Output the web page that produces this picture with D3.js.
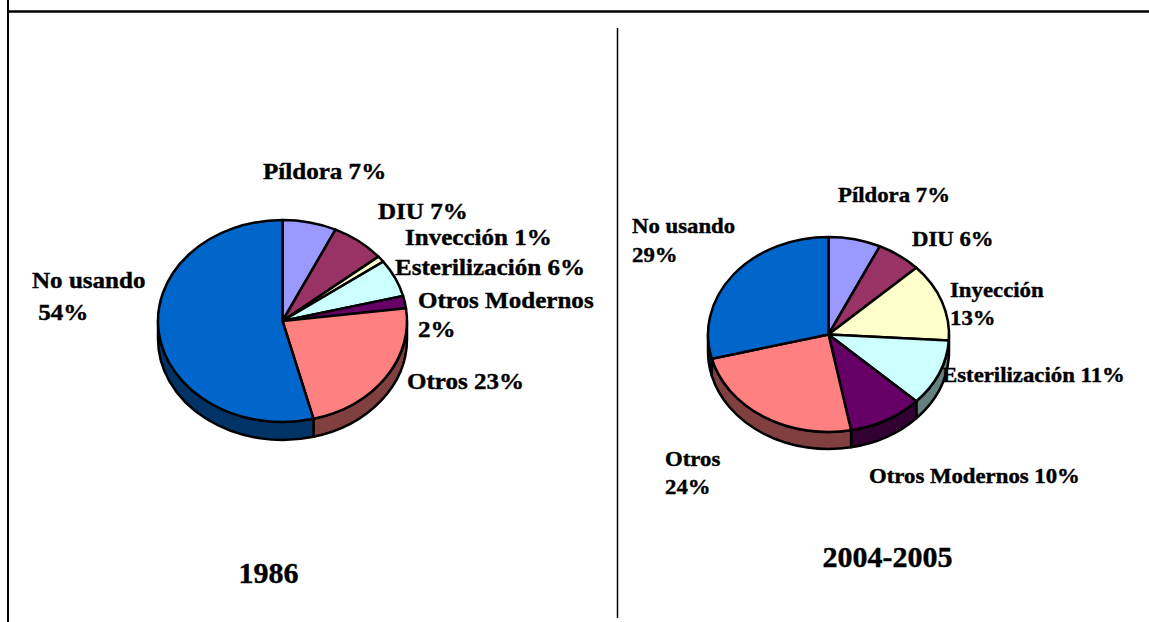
<!DOCTYPE html>
<html>
<head>
<meta charset="utf-8">
<script src="https://d3js.org/d3.v7.min.js"></script>
<style>
body { margin: 0; background: white; }
text { font-family: "Liberation Serif", "Times New Roman", serif; font-weight: bold; fill: black; stroke: black; stroke-width: 0.4px; }
</style>
</head>
<body>
<svg id="chart" width="1149" height="622"></svg>
<script>
// data
const categories = ["Píldora", "DIU", "Inyección", "Esterilización", "Otros Modernos", "Otros", "No usando"];
const colors = ["#9999FF", "#993366", "#FFFFCC", "#CCFFFF", "#660066", "#FF8080", "#0066CC"];
const values1986 = [7, 7, 1, 6, 2, 23, 54];
const values2004 = [7, 6, 13, 11, 10, 24, 29];
const labels1986 = [["Píldora 7%"], ["DIU 7%"], ["Invección 1%"], ["Esterilización 6%"], ["Otros Modernos", "2%"], ["Otros 23%"], ["No usando", " 54%"]];
const labels2004 = [["Píldora 7%"], ["DIU 6%"], ["Inyección", "13%"], ["Esterilización 11%"], ["Otros Modernos 10%"], ["Otros", "24%"], ["No usando", "29%"]];
const titles = ["1986", "2004-2005"];

// label placement relative to pie centre (x, y of first line, line step)
const labelPos1986 = [[-19.5, -142, 0], [95.5, -102, 0], [122.5, -76, 0], [112.5, -46, 0], [135.5, -13, 29], [124.5, 68, 0], [-250.5, -33, 32]];
const labelPos2004 = [[9.5, -132.5, 0], [83.5, -88.5, 0], [121.5, -37.5, 28], [113.5, 47.5, 0], [40.5, 148.5, 0], [-163.5, 131.5, 28], [-196.5, -101.5, 29]];

const svg = d3.select("#chart");

// frame lines
svg.append("line").attr("x1", 7).attr("x2", 1149).attr("y1", 11.5).attr("y2", 11.5)
  .attr("stroke", "black").attr("stroke-width", 2.5);
svg.append("line").attr("x1", 8).attr("x2", 8).attr("y1", 0).attr("y2", 622)
  .attr("stroke", "black").attr("stroke-width", 2);
svg.append("line").attr("x1", 617.5).attr("x2", 617.5).attr("y1", 28).attr("y2", 618)
  .attr("stroke", "black").attr("stroke-width", 1.5);

function halfColor(c) {
  const r = d3.rgb(c);
  return d3.rgb(r.r * 0.5, r.g * 0.5, r.b * 0.5).formatHex();
}

function drawPie(values, labels, labelPos, cx, cy, rx, ry, depth, fontSize, stretch, title, titleX, titleY) {
  const g = svg.append("g");
  const arcs = d3.pie().sort(null)(values);
  const pt = (a, dy) => [cx + rx * Math.sin(a), cy - ry * Math.cos(a) + (dy || 0)];

  // sides (only the front half is visible)
  arcs.forEach(function(d, i) {
    const s0 = Math.max(d.startAngle, Math.PI / 2);
    const s1 = Math.min(d.endAngle, 3 * Math.PI / 2);
    if (s0 >= s1) return;
    const p0 = pt(s0), p1 = pt(s1), q1 = pt(s1, depth), q0 = pt(s0, depth);
    const large = (s1 - s0) > Math.PI ? 1 : 0;
    const path = "M" + p0 + "A" + rx + "," + ry + " 0 " + large + " 1 " + p1 +
      "L" + q1 + "A" + rx + "," + ry + " 0 " + large + " 0 " + q0 + "Z";
    g.append("path").attr("d", path)
      .attr("fill", halfColor(colors[i]))
      .attr("stroke", "black").attr("stroke-width", 2.5).attr("stroke-linejoin", "round");
  });

  // top faces
  arcs.forEach(function(d, i) {
    const p0 = pt(d.startAngle), p1 = pt(d.endAngle);
    const large = (d.endAngle - d.startAngle) > Math.PI ? 1 : 0;
    const path = "M" + cx + "," + cy + "L" + p0 + "A" + rx + "," + ry + " 0 " + large + " 1 " + p1 + "Z";
    g.append("path").attr("d", path)
      .attr("fill", colors[i])
      .attr("stroke", "black").attr("stroke-width", 2.5).attr("stroke-linejoin", "round");
  });

  // labels
  labels.forEach(function(lines, i) {
    const lp = labelPos[i];
    lines.forEach(function(t, k) {
      g.append("text")
        .attr("transform", "translate(" + (cx + lp[0]) + "," + (cy + lp[1] + k * lp[2]) + ") scale(" + stretch + ",1)")
        .style("font-size", fontSize + "px")
        .style("white-space", "pre")
        .text(t);
    });
  });

  svg.append("text")
    .attr("x", titleX).attr("y", titleY)
    .attr("text-anchor", "middle")
    .style("font-size", "30px")
    .text(title);
}

drawPie(values1986, labels1986, labelPos1986, 282.5, 321, 124.5, 101, 18, 23, 1.09, titles[0], 268.5, 583);
drawPie(values2004, labels2004, labelPos2004, 828.5, 334.5, 120.5, 97.5, 17, 21.5, 1.06, titles[1], 887.5, 567);
</script>
</body>
</html>
